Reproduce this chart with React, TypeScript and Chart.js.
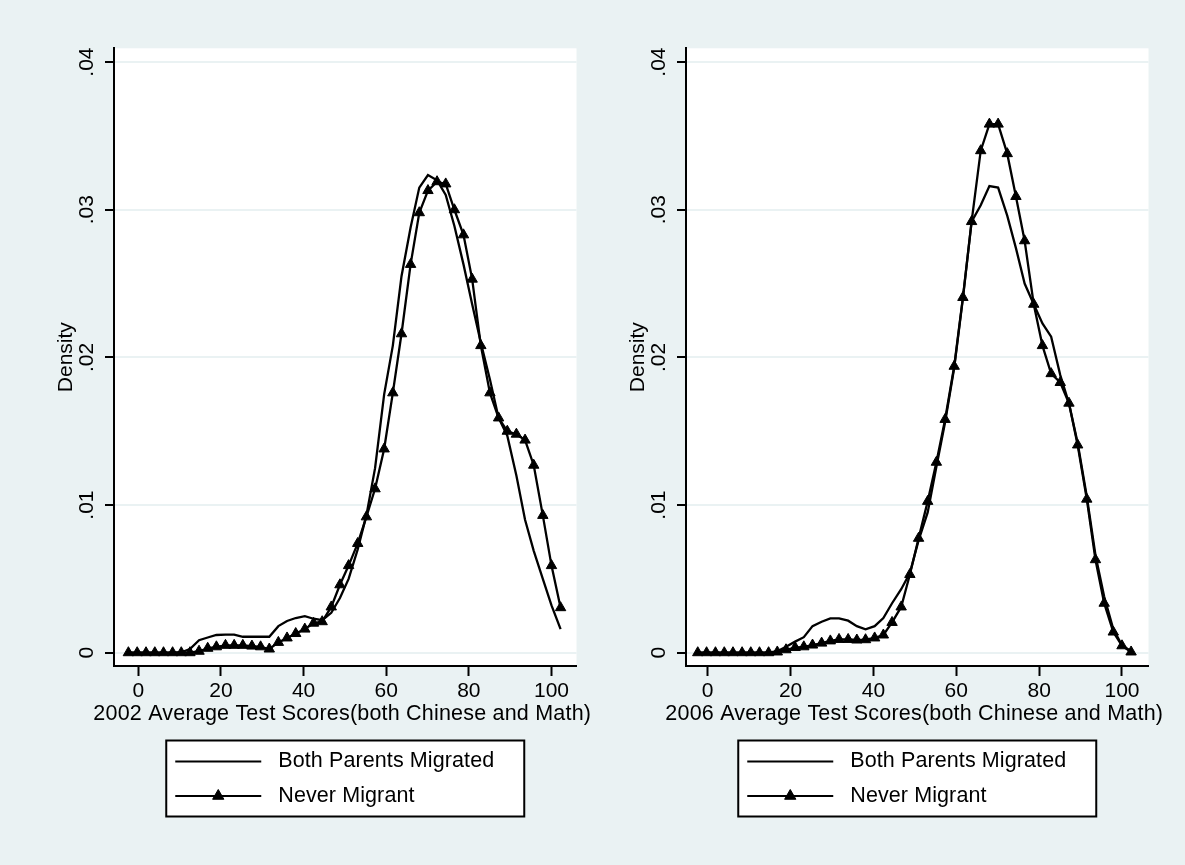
import React, { useEffect, useRef } from "react";
import { Chart, registerables } from "chart.js";

Chart.register(...registerables);

// Evaluation grid of the kernel density (test score)
const scoreGrid = [-2.4, -0.27, 1.87, 4.0, 6.1, 8.3, 10.4, 12.5, 14.7, 16.8, 18.9, 21.1, 23.2, 25.3, 27.5, 29.6, 31.7, 33.9, 36.0, 38.1, 40.3, 42.4, 44.5, 46.7, 48.8, 50.9, 53.1, 55.2, 57.3, 59.5, 61.6, 63.7, 65.9, 68.0, 70.1, 72.3, 74.4, 76.5, 78.7, 80.8, 82.9, 85.1, 87.2, 89.3, 91.5, 93.6, 95.7, 97.9, 100.0, 102.2];

// 2002 densities
const both2002 = [0, 0, 0, 0, 0, 0, 0.00003, 0.00025, 0.00085, 0.00103, 0.0012, 0.00122, 0.00122, 0.00108, 0.00108, 0.00108, 0.00108, 0.0018, 0.00215, 0.00235, 0.00247, 0.0023, 0.0022, 0.0027, 0.0037, 0.005, 0.007, 0.0093, 0.0125, 0.0175, 0.0208, 0.0255, 0.0288, 0.0315, 0.03235, 0.032, 0.031, 0.0289, 0.0263, 0.0236, 0.021, 0.0185, 0.0159, 0.0147, 0.012, 0.009, 0.0069, 0.005, 0.0032, 0.0016];
const never2002 = [0, 0, 0, 0, 0, 0, 0, 0, 0.0001, 0.0003, 0.0004, 0.0005, 0.0005, 0.0005, 0.00045, 0.0004, 0.00025, 0.0007, 0.001, 0.0013, 0.0016, 0.002, 0.0021, 0.0031, 0.0046, 0.0059, 0.0074, 0.0092, 0.0111, 0.0138, 0.0176, 0.0216, 0.0263, 0.0298, 0.0313, 0.0319, 0.03175, 0.03, 0.0283, 0.0253, 0.0208, 0.0176, 0.0159, 0.015, 0.0148, 0.0144, 0.0127, 0.0093, 0.0059, 0.00305];

// 2006 densities
const both2006 = [0, 0, 0, 0, 0, 0, 0, 0, 0, 0.0001, 0.0004, 0.00075, 0.00105, 0.0018, 0.0021, 0.00233, 0.00233, 0.00217, 0.0018, 0.00158, 0.0018, 0.00235, 0.00335, 0.0043, 0.0054, 0.0076, 0.0095, 0.0126, 0.0156, 0.0193, 0.024, 0.0292, 0.0303, 0.0316, 0.0315, 0.0296, 0.0274, 0.025, 0.0236, 0.0223, 0.0214, 0.0188, 0.0169, 0.0142, 0.0106, 0.0066, 0.0038, 0.0016, 0.0005, 0.0001];
const never2006 = [0, 0, 0, 0, 0, 0, 0, 0, 0, 0.00005, 0.0002, 0.00035, 0.0004, 0.00052, 0.00065, 0.0008, 0.0009, 0.0009, 0.00086, 0.00088, 0.001, 0.0012, 0.00205, 0.0031, 0.0053, 0.00775, 0.01025, 0.0129, 0.0158, 0.0194, 0.02406, 0.0292, 0.034, 0.0358, 0.0358, 0.0338, 0.0309, 0.0279, 0.0236, 0.0208, 0.0189, 0.0183, 0.0169, 0.01407, 0.0104, 0.0063, 0.00335, 0.0014, 0.00047, 0.00005];

const xTicks = [0, 20, 40, 60, 80, 100];
const yTicks = [0, 0.01, 0.02, 0.03, 0.04];
const yTickLabels = ["0", ".01", ".02", ".03", ".04"];
const seriesNames = ["Both Parents Migrated", "Never Migrant"];
const xTitle2002 = "2002 Average Test Scores(both Chinese and Math)";
const xTitle2006 = "2006 Average Test Scores(both Chinese and Math)";
const yTitle = "Density";

const FONT = "'Liberation Sans', Arial, Helvetica, sans-serif";
const FS = 21;
const BG = "#EAF2F3";

type PanelProps = {
  left: number;
  both: number[];
  never: number[];
  xTitle: string;
  xMin: number;
  xMax: number;
};

function drawTriangle(ctx: CanvasRenderingContext2D, x: number, y: number, r: number) {
  ctx.beginPath();
  for (let k = 0; k < 3; k++) {
    const a = (k * 2 * Math.PI) / 3;
    const px = x + Math.sin(a) * r;
    const py = y - Math.cos(a) * r;
    if (k === 0) ctx.moveTo(px, py);
    else ctx.lineTo(px, py);
  }
  ctx.closePath();
  ctx.fill();
  ctx.stroke();
}

function Panel({ left, both, never, xTitle, xMin, xMax }: PanelProps) {
  const ref = useRef<HTMLCanvasElement>(null);
  useEffect(() => {
    const canvas = ref.current!;
    const plotBg = {
      id: "plotBg",
      beforeDraw(chart: any) {
        const { ctx, chartArea } = chart;
        ctx.save();
        ctx.fillStyle = "#ffffff";
        ctx.fillRect(chartArea.left, chartArea.top, chartArea.right - chartArea.left, chartArea.bottom - chartArea.top);
        ctx.restore();
      },
    };
    const extras = {
      id: "extras",
      afterDraw(chart: any) {
        const { ctx, chartArea } = chart;
        const cx = (chartArea.left + chartArea.right) / 2;
        ctx.save();
        ctx.font = `21.5px ${FONT}`;
        (ctx as any).letterSpacing = "0.2px";
        ctx.fillStyle = "#000";
        ctx.textAlign = "center";
        ctx.textBaseline = "middle";
        ctx.fillText(xTitle, cx - 3, 714);
        (ctx as any).letterSpacing = "0.1px";
        // legend box
        const w = 358;
        const h = 76;
        const lx = cx - w / 2;
        const ly = 740.5;
        ctx.fillStyle = "#ffffff";
        ctx.fillRect(lx, ly, w, h);
        ctx.strokeStyle = "#000";
        ctx.lineWidth = 2;
        ctx.strokeRect(lx, ly, w, h);
        chart.data.datasets.forEach((ds: any, i: number) => {
          const y = ly + 21 + i * 34.5;
          ctx.beginPath();
          ctx.moveTo(lx + 9, y);
          ctx.lineTo(lx + 95, y);
          ctx.lineWidth = 2.2;
          ctx.strokeStyle = "#000";
          ctx.stroke();
          if (ds.pointStyle === "triangle") {
            ctx.fillStyle = "#000";
            ctx.lineWidth = 1;
            drawTriangle(ctx, lx + 52, y, 6.5);
          }
          ctx.fillStyle = "#000";
          ctx.textAlign = "left";
          ctx.textBaseline = "middle";
          ctx.fillText(ds.label, lx + 112, y);
        });
        ctx.restore();
      },
    };
    const chart = new Chart(canvas, {
      type: "line",
      data: {
        datasets: [
          {
            label: seriesNames[0],
            data: scoreGrid.map((x, i) => ({ x, y: both[i] })),
            borderColor: "#000",
            borderWidth: 2.3,
            pointRadius: 0,
            tension: 0,
            fill: false,
          },
          {
            label: seriesNames[1],
            data: scoreGrid.map((x, i) => ({ x, y: never[i] })),
            borderColor: "#000",
            borderWidth: 2.3,
            pointStyle: "triangle",
            pointRadius: 6,
            pointBackgroundColor: "#000",
            pointBorderColor: "#000",
            pointBorderWidth: 1,
            tension: 0,
            fill: false,
          },
        ],
      },
      options: {
        responsive: false,
        animation: false,
        events: [],
        layout: { padding: { left: 40, right: 23.5, top: 48.3, bottom: 159 } },
        plugins: { legend: { display: false }, tooltip: { enabled: false } },
        scales: {
          x: {
            type: "linear",
            min: xMin,
            max: xMax,
            afterBuildTicks: (s: any) => {
              s.ticks = xTicks.map((v) => ({ value: v }));
            },
            afterFit: (s: any) => {
              s.height = 40;
            },
            grid: { drawOnChartArea: false, drawTicks: true, tickLength: 10, tickColor: "#000", tickWidth: 2 },
            border: { display: true, color: "#000", width: 2 },
            ticks: {
              color: "#000",
              font: { family: FONT, size: FS },
              padding: 3,
              minRotation: 0,
              maxRotation: 0,
              autoSkip: false,
              callback: (v: any) => String(v),
            },
          },
          y: {
            type: "linear",
            min: -0.0009,
            max: 0.040935,
            afterBuildTicks: (s: any) => {
              s.ticks = yTicks.map((v) => ({ value: v }));
            },
            afterFit: (s: any) => {
              s.width = 74;
            },
            grid: { color: BG, lineWidth: 2, drawTicks: true, tickLength: 9, tickColor: "#000", tickWidth: 2 },
            border: { display: true, color: "#000", width: 2 },
            ticks: {
              color: "#000",
              font: { family: FONT, size: FS },
              padding: 3,
              minRotation: 90,
              maxRotation: 90,
              crossAlign: "center",
              autoSkip: false,
              callback: (v: any) => {
                const i = yTicks.indexOf(v);
                return i >= 0 ? yTickLabels[i] : "";
              },
            },
            title: {
              display: true,
              text: yTitle,
              color: "#000",
              font: { family: FONT, size: FS },
              padding: { top: 14, bottom: 0 },
            },
          },
        },
      } as any,
      plugins: [plotBg, extras],
    });
    return () => chart.destroy();
  }, []);
  return (
    <canvas
      ref={ref}
      width={600}
      height={865}
      style={{ position: "absolute", left, top: 0, width: 600, height: 865 }}
    />
  );
}

export default function App() {
  return (
    <div
      style={{
        position: "fixed",
        left: 0,
        top: 0,
        width: 1185,
        height: 865,
        background: BG,
        overflow: "hidden",
      }}
    >
      <Panel left={0} both={both2002} never={never2002} xTitle={xTitle2002} xMin={-5.88} xMax={106.05} />
      <Panel left={572} both={both2006} never={never2006} xTitle={xTitle2006} xMin={-5.24} xMax={106.4} />
    </div>
  );
}
